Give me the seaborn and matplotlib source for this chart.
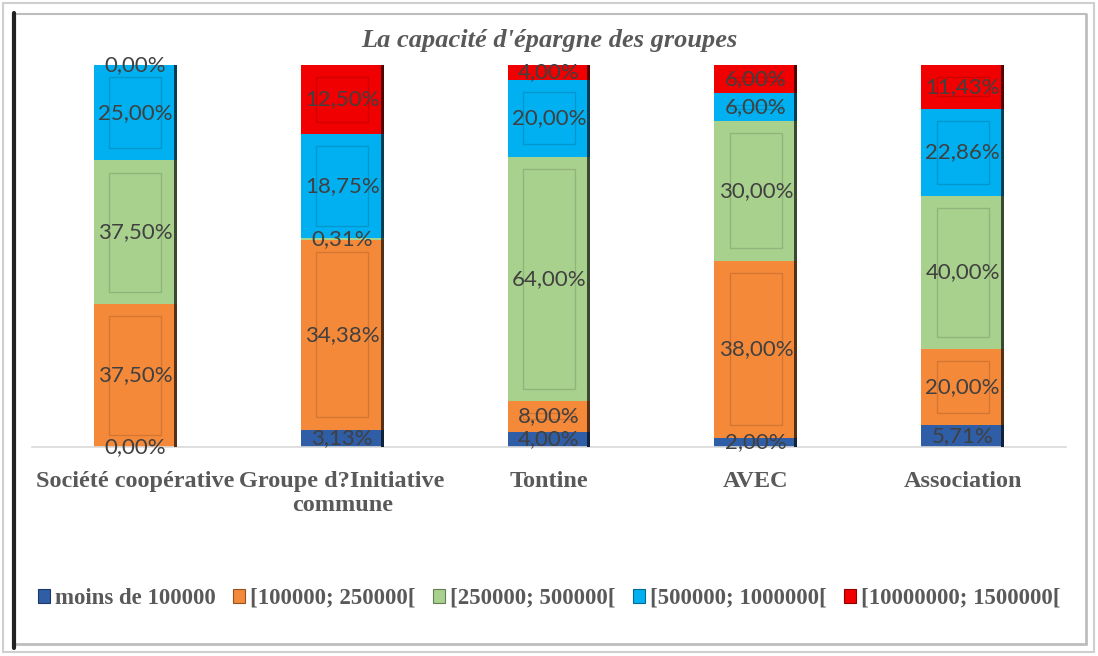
import pandas as pd
import numpy as np
import seaborn as sns
import matplotlib.pyplot as plt
from matplotlib.patches import Rectangle, Patch
from matplotlib.lines import Line2D
from matplotlib.colors import to_rgb

# data (raw percentages as written on the chart)
groupes = ['Société coopérative', 'Groupe d?Initiative\ncommune', 'Tontine', 'AVEC', 'Association']
tranches = ['moins de 100000', '[100000; 250000[', '[250000; 500000[',
            '[500000; 1000000[', '[10000000; 1500000[']
moins_100k = [0.00, 3.13, 4.00, 2.00, 5.71]
t_100k_250k = [37.50, 34.38, 8.00, 38.00, 20.00]
t_250k_500k = [37.50, 0.31, 64.00, 30.00, 40.00]
t_500k_1m = [25.00, 18.75, 20.00, 6.00, 22.86]
t_10m_15m = [0.00, 12.50, 4.00, 6.00, 11.43]
couleurs = ['#2F5DA6', '#F5893A', '#A9D18E', '#00B0F0', '#F00000']

df = pd.DataFrame({tranches[0]: moins_100k, tranches[1]: t_100k_250k,
                   tranches[2]: t_250k_500k, tranches[3]: t_500k_1m,
                   tranches[4]: t_10m_15m}, index=groupes)
# 100% stacked chart: every bar is scaled to full height
parts = df.div(df.sum(axis=1), axis=0) * 100

sns.set_style('white')
serif = 'Liberation Serif'
gris = '#595959'

fig, ax = plt.subplots(figsize=(10.98, 6.56), dpi=100)
fig.subplots_adjust(left=0.029, right=0.971, bottom=0.3186, top=0.901)

def plus_fonce(c, f):
    return tuple(v * f for v in to_rgb(c))

bas = np.zeros(len(groupes))
for col, c in zip(tranches, couleurs):
    sns.barplot(x=groupes, y=parts[col].values, bottom=bas, color=c, width=0.4,
                saturation=1, errorbar=None, linewidth=0, ax=ax)
    cont = ax.containers[-1]
    # fake bevel look
    for p in cont.patches:
        x, y, w, h = p.get_x(), p.get_y(), p.get_width(), p.get_height()
        if h <= 0:
            continue
        ax.add_patch(Rectangle((x + w - 0.014, y), 0.014, h,
                               facecolor=plus_fonce(c, 0.35), lw=0, zorder=3))
        if h > 7:
            ax.add_patch(Rectangle((x + 0.075, y + 3.2), w - 0.15, h - 6.4,
                                   facecolor='none', edgecolor=plus_fonce(c, 0.86),
                                   lw=1.0, zorder=3))
    etiquettes = [f'{v:.2f}%'.replace('.', ',') for v in df[col].values]
    ax.bar_label(cont, labels=etiquettes, label_type='center', fontsize=16,
                 family='Lato', color='#404040', zorder=5)
    bas = bas + parts[col].values

ax.set_ylim(0, 100)
ax.set_xlim(-0.5, 4.5)
ax.set_yticks([])
ax.set_xlabel('')
ax.set_ylabel('')
for s in ['top', 'right', 'left']:
    ax.spines[s].set_visible(False)
ax.spines['bottom'].set_color('#D9D9D9')
ax.spines['bottom'].set_linewidth(1.2)
ax.tick_params(axis='x', length=0, pad=17)
for t in ax.get_xticklabels():
    t.set_fontfamily(serif)
    t.set_fontweight('bold')
    t.set_fontsize(17.5)
    t.set_color(gris)

fig.text(0.5, 0.939, "La capacité d'épargne des groupes", ha='center', va='center',
         family=serif, style='italic', weight='bold', fontsize=19, color=gris)

handles = [Patch(facecolor=c, edgecolor=plus_fonce(c, 0.6), lw=0.8) for c in couleurs]
fig.legend(handles, tranches, loc='center', bbox_to_anchor=(0.5, 0.088), ncol=5,
           frameon=False, handlelength=0.55, handleheight=0.55, handletextpad=0.2,
           columnspacing=0.75, prop={'family': serif, 'weight': 'bold', 'size': 16.5},
           labelcolor=gris)

# picture frame
W, H = 1098, 656
def trait(x0, y0, x1, y1, c, lw):
    fig.add_artist(Line2D([x0 / W, x1 / W], [1 - y0 / H, 1 - y1 / H],
                          transform=fig.transFigure, color=c, lw=lw))
trait(3, 3, 1094, 3, '#CFCFCF', 1.5)
trait(3, 3, 3, 652, '#CFCFCF', 1.5)
trait(1094, 3, 1094, 652, '#CFCFCF', 1.5)
trait(3, 652, 1094, 652, '#CFCFCF', 1.5)
trait(14, 14, 1086, 14, '#BDBDBD', 1.5)
trait(1086, 14, 1086, 644, '#BDBDBD', 2)
trait(14, 644, 1086, 644, '#BDBDBD', 2)
trait(14, 13, 14, 648, '#222222', 3)

fig.savefig('out.png', dpi=100)
